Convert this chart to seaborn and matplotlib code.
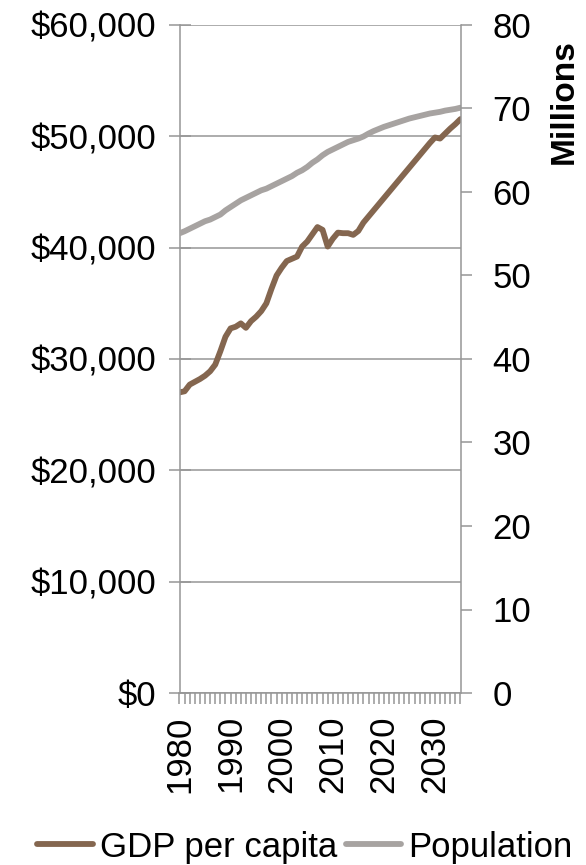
import numpy as np
import pandas as pd
import seaborn as sns
import matplotlib
matplotlib.use('Agg')
import matplotlib.pyplot as plt
from matplotlib.ticker import MultipleLocator, StrMethodFormatter

#---------------------Datos------------------
anios = list(range(1980, 2036))

pib_per_capita = [27000, 27100, 27700, 27950, 28200, 28500, 28900, 29500, 30700, 32000,
                  32750, 32900, 33200, 32800, 33400, 33800, 34300, 35000, 36300, 37500,
                  38200, 38800, 39000, 39200, 40100, 40550, 41200, 41850, 41600, 40100,
                  40800, 41350, 41300, 41300, 41150, 41500, 42250, 42800, 43350, 43900,
                  44450, 45000, 45550, 46100, 46650, 47200, 47750, 48300, 48850, 49400,
                  49900, 49800, 50250, 50700, 51100, 51550]

poblacion = [55.05, 55.3, 55.6, 55.9, 56.2, 56.5, 56.7, 57.0, 57.3, 57.8,
             58.2, 58.6, 59.0, 59.3, 59.6, 59.9, 60.2, 60.4, 60.7, 61.0,
             61.3, 61.6, 61.9, 62.3, 62.6, 63.0, 63.5, 63.9, 64.4, 64.8,
             65.1, 65.4, 65.7, 66.0, 66.2, 66.4, 66.65, 67.0, 67.3, 67.55,
             67.8, 68.0, 68.2, 68.4, 68.6, 68.8, 68.95, 69.1, 69.25, 69.4,
             69.5, 69.6, 69.75, 69.85, 69.95, 70.1]

etiquetas_series = ['GDP per capita', 'Population']
ticks_anios = list(range(1980, 2031, 10))
ticks_pib = list(range(0, 60001, 10000))
ticks_pob = list(range(0, 81, 10))

df = pd.DataFrame({'Anio': anios, 'PIB': pib_per_capita, 'Poblacion': poblacion})

#---------------------Estilo------------------
sns.set_theme(style='white')
plt.rcParams['font.family'] = ['Liberation Sans', 'DejaVu Sans']
plt.rcParams['text.color'] = 'black'

gris = '#969696'
marron = '#84664F'
gris_linea = '#A7A3A1'

fig = plt.figure(figsize=(5.86, 8.65), dpi=100)
ax = fig.add_axes([179.5 / 586, 1 - 693 / 865, 281 / 586, 668 / 865])
ax2 = ax.twinx()

#---------------------Lineas------------------
sns.lineplot(data=df, x='Anio', y='PIB', ax=ax, color=marron, linewidth=4.2,
             label=etiquetas_series[0])
sns.lineplot(data=df, x='Anio', y='Poblacion', ax=ax2, color=gris_linea, linewidth=4.2,
             label=etiquetas_series[1])
ax.get_legend().remove()
ax2.get_legend().remove()

#---------------------Ejes------------------
ax.set_xlim(1980, 2035)
ax.set_ylim(0, 60000)
ax2.set_ylim(0, 80)

ax.set_xticks(ticks_anios)
ax.set_xticklabels([str(a) for a in ticks_anios], rotation=90)
ax.xaxis.set_minor_locator(MultipleLocator(1))
ax.set_yticks(ticks_pib)
ax.yaxis.set_major_formatter(StrMethodFormatter('${x:,.0f}'))
ax2.set_yticks(ticks_pob)

ax.set_xlabel('')
ax.set_ylabel('')
ax2.set_ylabel('Millions', fontsize=24, fontweight='bold', rotation=90,
               ha='center', va='center', color='black')
ax2.yaxis.set_label_coords(1.37, 0.885)

ax.yaxis.grid(True, color=gris, linewidth=1.1)
ax.xaxis.grid(False)

ax.spines['top'].set_visible(False)
ax.spines['right'].set_visible(False)
for s in ['top', 'left', 'bottom']:
    ax2.spines[s].set_visible(False)
for s in ['left', 'bottom']:
    ax.spines[s].set_color(gris)
    ax.spines[s].set_linewidth(1.1)
ax2.spines['right'].set_color(gris)
ax2.spines['right'].set_linewidth(1.1)

ax.tick_params(axis='y', which='major', direction='inout', length=16, width=1.1,
               color=gris, labelsize=25, labelcolor='black', pad=9, left=True)
ax.tick_params(axis='x', which='both', direction='out', length=8, width=1.1,
               color=gris, labelsize=25, labelcolor='black', pad=8, bottom=True)
ax2.tick_params(axis='y', direction='out', length=8, width=1.1, color=gris,
                labelsize=25, labelcolor='black', pad=15, right=True)

ax.set_zorder(0)
ax2.set_zorder(1)

#---------------------Leyenda------------------
h1, l1 = ax.get_legend_handles_labels()
h2, l2 = ax2.get_legend_handles_labels()
fig.legend(h1 + h2, l1 + l2, loc='center', bbox_to_anchor=(305 / 586, 1 - 847 / 865),
           ncol=2, frameon=False, fontsize=25, labelcolor='black', handlelength=1.6,
           handletextpad=0.2, columnspacing=0.25, borderpad=0)

plt.savefig('out.png', dpi=100)
